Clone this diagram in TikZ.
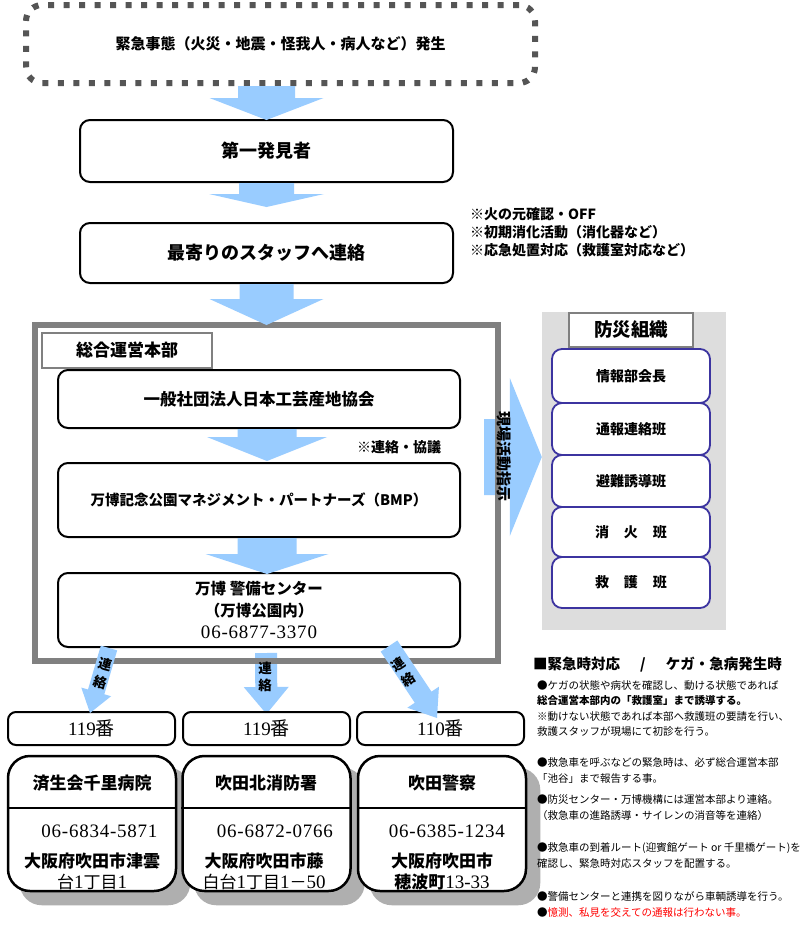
\documentclass[tikz,border=0pt]{standalone}
\usepackage{fontspec}
\setmainfont{Noto Sans CJK JP}
\newfontfamily\serifdig{Liberation Serif}
\newfontfamily\phonefont{Liberation Serif}[LetterSpace=4]
\usetikzlibrary{calc,backgrounds}
\definecolor{arrowblue}{RGB}{153,204,255}
\definecolor{framegray}{RGB}{128,128,128}
\definecolor{panelgray}{RGB}{221,221,221}
\definecolor{itemblue}{RGB}{60,52,160}
\definecolor{dotgray}{RGB}{85,85,85}
\definecolor{shadowgray}{RGB}{175,175,175}
\definecolor{alertred}{RGB}{255,0,0}
\newcommand\fsz[2]{\fontsize{#1}{#2}\selectfont}
\newcommand\dg[1]{{\serifdig\mdseries\fsz{19}{21}#1}}
\newcommand\blockarrow[5]{%
  \coordinate (bahead) at ($(#2)!#5!(#1)$);
  \fill[arrowblue] ($(#1)!#3!90:(#2)$) -- ($(bahead)!#3!90:(#2)$) -- ($(bahead)!#4!90:(#2)$) -- (#2)
    -- ($(bahead)!#4!-90:(#2)$) -- ($(bahead)!#3!-90:(#2)$) -- ($(#1)!#3!-90:(#2)$) -- cycle;}
\begin{document}
\begin{tikzpicture}[x=1pt,y=-1pt,
  box/.style={draw=black, line width=2pt, rounded corners=10pt, fill=white, inner sep=0pt, align=center},
  dotbox/.style={draw=dotgray, line width=6pt, dash pattern=on 6pt off 9.5pt, rounded corners=16pt, inner sep=0pt},
  labelbox/.style={draw=framegray, line width=1.5pt, fill=white, inner sep=0pt},
  itembox/.style={draw=itemblue, line width=1.8pt, rounded corners=10pt, fill=white, minimum width=158pt, inner sep=0pt, font=\bfseries\fsz{14}{17}},
  numbox/.style={box, rounded corners=8pt, minimum width=167pt, minimum height=33pt, font=\fsz{19}{22}},
  orgbox/.style={draw=black, line width=2.5pt, rounded corners=22pt, fill=white, minimum width=168pt, minimum height=135pt, inner sep=0pt},
  orgname/.style={inner sep=0pt, font=\bfseries\fsz{17}{20}},
  phone/.style={inner sep=0pt, font=\phonefont\fsz{19}{22}},
  addr/.style={inner sep=0pt, align=center, font=\bfseries\fsz{17}{21}},
  renraku/.style={inner sep=0pt, font=\bfseries\fsz{13.5}{15}},
  note/.style={anchor=west, align=left, inner sep=0pt, font=\fsz{10.5}{15.5}}
]
\begin{pgfonlayer}{background}
\fill[white] (0,0) rectangle (810,943);
\end{pgfonlayer}
\useasboundingbox (0,0) rectangle (810,943);

% top flow
\node[dotbox, minimum width=509pt, minimum height=78pt, font=\bfseries\fsz{15}{18}] (emerg) at (280.5,44) {緊急事態（火災・地震・怪我人・病人など）発生};
\node[box, minimum width=373pt, minimum height=62pt, font=\bfseries\fsz{18}{22}] (find) at (266.5,151) {第一発見者};
\node[box, minimum width=373pt, minimum height=60pt, font=\bfseries\fsz{18}{22}] (staff) at (266.5,253) {最寄りのスタッフへ連絡};
\node[anchor=west, align=left, inner sep=0pt, font=\bfseries\fsz{14}{18}] (notes) at (470,232) {※火の元確認・OFF\\※初期消化活動（消化器など）\\※応急処置対応（救護室対応など）};

\coordinate (a1s) at (find.north |- emerg.south);
\coordinate (a1e) at ($(find.north)+(0,1)$);
\blockarrow{a1s}{a1e}{28.5pt}{57pt}{22pt}
\coordinate (a2s) at (find.south);
\coordinate (a2e) at ($(staff.north)+(0,-15)$);
\blockarrow{a2s}{a2e}{27.5pt}{57.5pt}{13pt}

% headquarters
\node[draw=framegray, line width=6pt, minimum width=463pt, minimum height=336pt, inner sep=0pt] (hq) at (266,493) {};
\coordinate (a3s) at (staff.south);
\coordinate (a3e) at ($(staff.south |- hq.north)+(0,3)$);
\blockarrow{a3s}{a3e}{27pt}{57pt}{26pt}

\node[labelbox, minimum width=170pt, minimum height=35pt, font=\bfseries\fsz{17}{20}] (hqlabel) at (127,350.5) {総合運営本部};
\node[box, minimum width=402pt, minimum height=58pt, font=\bfseries\fsz{16.5}{20}] (assoc) at (259,399) {一般社団法人日本工芸産地協会};
\node[inner sep=0pt, font=\bfseries\fsz{14}{17}] (consult) at (399,447) {※連絡・協議};
\node[box, minimum width=402pt, minimum height=74pt, font=\bfseries\fsz{14.5}{18}] (bmp) at (259,500) {万博記念公園マネジメント・パートナーズ（BMP）};
\node[box, minimum width=402pt, minimum height=74pt, font=\bfseries\fsz{15.5}{22}] (guard) at (259,610) {万博 警備センター\\（万博公園内）\\{\phonefont\mdseries\fsz{19}{22}06-6877-3370}};

\coordinate (a4s) at ($(assoc.south)+(8,0)$);
\coordinate (a4e) at ($(bmp.north)+(8,-1)$);
\blockarrow{a4s}{a4e}{29.5pt}{60pt}{24pt}
\coordinate (a5s) at ($(bmp.south)+(8,0)$);
\coordinate (a5e) at ($(guard.north)+(8,2)$);
\blockarrow{a5s}{a5e}{29.5pt}{61.5pt}{20pt}

% disaster organisation panel
\begin{pgfonlayer}{background}
\node[fill=panelgray, minimum width=184pt, minimum height=318pt, inner sep=0pt] (panel) at (634,471) {};
\coordinate (ra1) at (484,457);
\coordinate (ra2) at (panel.west |- ra1);
\blockarrow{ra1}{ra2}{38pt}{79pt}{32pt}
\end{pgfonlayer}
\node[rotate=-90, inner sep=0pt, font=\bfseries\fsz{15}{18}] (instr) at (504,456) {現場活動指示};
\node[labelbox, minimum width=124pt, minimum height=34pt, font=\bfseries\fsz{18.5}{22}] (orgtitle) at (631,330) {防災組織};
\node[itembox, minimum height=54pt] (i1) at (631,376) {情報部会長};
\node[itembox, minimum height=52pt] (i2) at (631,429) {通報連絡班};
\node[itembox, minimum height=52pt] (i3) at (631,481) {避難誘導班};
\node[itembox, minimum height=50pt] (i4) at (631,532) {消\hspace{15pt}火\hspace{15pt}班};
\node[itembox, minimum height=51pt] (i5) at (631,582.5) {救\hspace{15pt}護\hspace{15pt}班};

% emergency numbers
\node[numbox] (c1) at (91.5,728.5) {{\serifdig 119}番};
\node[numbox] (c2) at (266.5,728.5) {{\serifdig 119}番};
\node[numbox] (c3) at (440.5,728.5) {{\serifdig 110}番};

\coordinate (l1s) at ($(guard.south)+(-150,0)$);
\coordinate (l1e) at ($(c1.north)+(-1.5,2)$);
\blockarrow{l1s}{l1e}{8.5pt}{15.5pt}{22pt}
\begin{pgfonlayer}{background}
\coordinate (m1s) at ($(guard.south)+(7,5)$);
\coordinate (m1e) at ($(c2.north)+(0,3)$);
\blockarrow{m1s}{m1e}{11pt}{22.5pt}{27pt}
\end{pgfonlayer}
\coordinate (r1s) at ($(guard.south)+(130,-2)$);
\coordinate (r1e) at ($(c3.north)+(-3.5,7)$);
\blockarrow{r1s}{r1e}{10pt}{19pt}{25pt}
\node[renraku, rotate=-15.8] (t1a) at (105.5,664) {連};
\node[renraku, rotate=-15.8] (t1b) at (100,682) {絡};
\node[renraku] (t2a) at (265,668) {連};
\node[renraku] (t2b) at (265,685) {絡};
\node[renraku, rotate=33] (t3a) at (398,664) {連};
\node[renraku, rotate=33] (t3b) at (408.5,680) {絡};

% organisations
\coordinate (divy) at (0,808);
\foreach \n/\x in {o1/92,o2/266.5,o3/442}{
  \node[orgbox] (\n) at (\x,823.5) {};
  \draw[line width=2.5pt] (\n.west |- divy) -- (\n.east |- divy);
  \begin{pgfonlayer}{background}
  \fill[shadowgray, rounded corners=22pt] ($(\n.north west)+(13,13)$) rectangle ($(\n.south east)+(13,13)$);
  \end{pgfonlayer}
}
\node[orgname] (o1t) at (92,783) {済生会千里病院};
\node[orgname] (o2t) at (266,783) {吹田北消防署};
\node[orgname] (o3t) at (442,783) {吹田警察};
\node[phone] (o1p) at (99.5,831) {06-6834-5871};
\node[phone] (o2p) at (275,831) {06-6872-0766};
\node[phone] (o3p) at (447,831) {06-6385-1234};
\node[addr] (o1a) at (92,871.5) {大阪府吹田市津雲\\{\mdseries 台\dg{1}丁目\dg{1}}};
\node[addr] (o2a) at (264,871.5) {大阪府吹田市藤\\{\mdseries 白台\dg{1}丁目\dg{1}－\dg{50}}};
\node[addr] (o3a) at (442,871.5) {大阪府吹田市\\穂波町\dg{13-33}};

% instructions
\node[anchor=west, inner sep=0pt, font=\bfseries\fsz{14.5}{17}] (rtitle) at (533,665) {■緊急時対応\hspace{20pt}/\hspace{20pt}ケガ・急病発生時};
\node[note] (na) at (537,708.5) {●ケガの状態や病状を確認し、動ける状態であれば\\{\bfseries 総合運営本部内の「救護室」まで誘導する。}\\※動けない状態であれば本部へ救護班の要請を行い、\\救護スタッフが現場にて初診を行う。};
\node[note] (nb) at (537,770.5) {●救急車を呼ぶなどの緊急時は、必ず総合運営本部\\「池谷」まで報告する事。};
\node[note] (nc) at (537,807.5) {●防災センター・万博機構には運営本部より連絡。\\（救急車の進路誘導・サイレンの消音等を連絡）};
\node[note] (nd) at (537,855.5) {●救急車の到着ルート(迎賓館ゲート or 千里橋ゲート)を\\確認し、緊急時対応スタッフを配置する。};
\node[note] (ne) at (537,904.5) {●警備センターと連携を図りながら車輌誘導を行う。\\●\textcolor{alertred}{憶測、私見を交えての通報は行わない事。}};
\end{tikzpicture}
\end{document}
